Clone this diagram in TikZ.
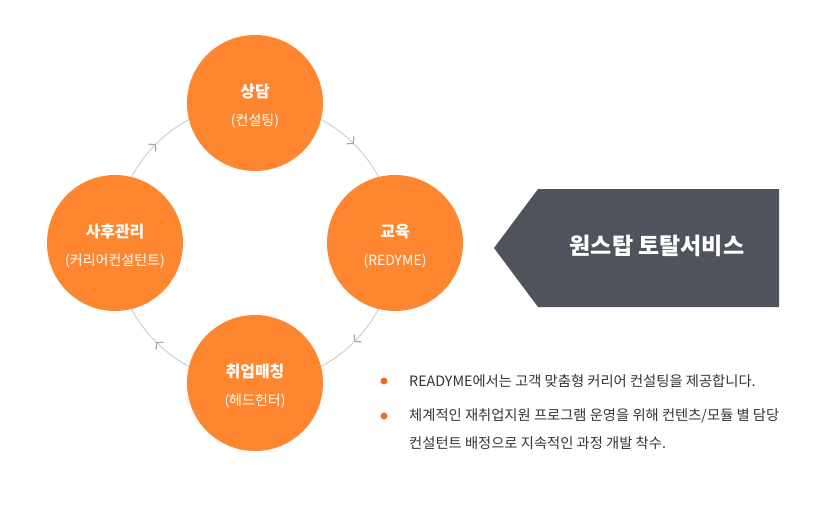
\documentclass[tikz,border=0pt]{standalone}
\usepackage{fontspec}
\setmainfont{Noto Sans CJK KR}
\newfontfamily\kr{Noto Sans CJK KR}
\usetikzlibrary{arrows.meta,decorations.markings,backgrounds}
\definecolor{orng}{HTML}{FF8631}
\definecolor{dot}{HTML}{F26A1E}
\definecolor{ring}{HTML}{D0D0D0}
\definecolor{tipc}{HTML}{A8A8A8}
\definecolor{banner}{HTML}{4F535B}
\definecolor{txt}{HTML}{333333}
\begin{document}
\begin{tikzpicture}[x=1pt,y=-1pt,
  stage/.style={circle,fill=orng,minimum size=136pt,inner sep=0pt,text=white,align=center},
  ttl/.style={font=\kr\bfseries\fontsize{16}{19}\selectfont},
  sub/.style={font=\kr\fontsize{14}{17}\selectfont},
  ringarc/.style={draw=ring,line width=1pt,
    postaction={decorate},decoration={markings,mark=at position 0.5 with {\arrow[tipc,line width=1.3pt]{Straight Barb[length=4.5pt,width=10pt]}}}},
  bullet/.style={circle,fill=dot,minimum size=7pt,inner sep=0pt},
  btxt/.style={anchor=west,text=txt,font=\kr\fontsize{14.3}{17}\selectfont,inner sep=0pt}
]
\useasboundingbox (0,0) rectangle (830,507);
\node[stage] (top) at (255,103) {};
\node[stage] (right) at (395,243) {};
\node[stage] (bottom) at (255,383) {};
\node[stage] (left) at (115,243) {};
\node[ttl,text=white] (t1) at (255,92) {상담};
\node[sub,text=white] (s1) at (255,121) {(컨설팅)};
\node[ttl,text=white] (t2) at (395,232) {교육};
\node[sub,text=white] (s2) at (395,261) {(REDYME)};
\node[ttl,text=white] (t3) at (255,372) {취업매칭};
\node[sub,text=white] (s3) at (255,401) {(헤드헌터)};
\node[ttl,text=white] (t4) at (115,232) {사후관리};
\node[sub,text=white] (s4) at (115,261) {(커리어컨설턴트)};
\begin{scope}[on background layer]
\path[ringarc] (top.center) arc[start angle=-90,end angle=0,radius=140];
\path[ringarc] (right.center) arc[start angle=0,end angle=90,radius=140];
\path[ringarc] (bottom.center) arc[start angle=90,end angle=180,radius=140];
\path[ringarc] (left.center) arc[start angle=180,end angle=270,radius=140];
\end{scope}
\fill[banner] (494,248) -- (538,189) -- (779,189) -- (779,307) -- (538,307) -- cycle;
\node[text=white,font=\kr\bfseries\fontsize{23}{27}\selectfont] (ban) at (657,246) {원스탑 토탈서비스};
\node[bullet] (b1) at (384,381) {};
\node[bullet] (b2) at (384,416) {};
\node[btxt] (l1) at (409,381) {READYME에서는 고객 맞춤형 커리어 컨설팅을 제공합니다.};
\node[btxt] (l2) at (409,416) {체계적인 재취업지원 프로그램 운영을 위해 컨텐츠/모듈 별 담당};
\node[btxt] (l3) at (409,443) {컨설턴트 배정으로 지속적인 과정 개발 착수.};
\end{tikzpicture}
\end{document}
